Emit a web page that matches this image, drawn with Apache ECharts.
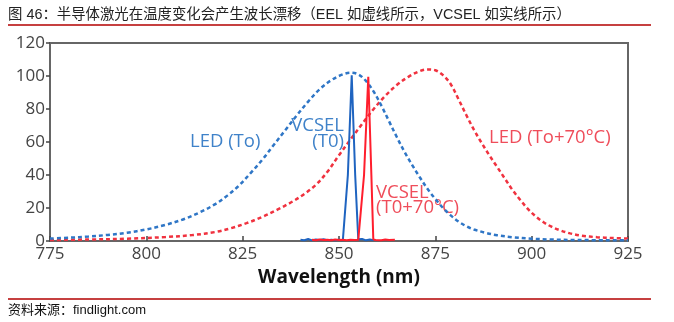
<!DOCTYPE html>
<html>
<head>
<meta charset="utf-8">
<script src="https://cdn.jsdelivr.net/npm/echarts@6/dist/echarts.min.js"></script>
<style>
html,body{margin:0;padding:0;background:#fff;}
#c{width:674px;height:322px;}
</style>
</head>
<body>
<div id="c"></div>
<script>
// ---- data ----
var titleText = '图 46：半导体激光在温度变化会产生波长漂移（EEL 如虚线所示，VCSEL 如实线所示）';
var sourceText = '资料来源：findlight.com';
var xTicks = [775, 800, 825, 850, 875, 900, 925];
var yTicks = [0, 20, 40, 60, 80, 100, 120];

var ledToX = [775,780,785,790,795,800,805,810,814,818,821,824,827,830,833,836,839,842,845,848,851,853,855,857,859,861,863,865,867,869,871,873,875,877,879,881,883,885,888,891,895,900,905,912,925];
var ledToY = [1.5,2,2.7,3.7,5,7,9.8,13.5,17.5,22.5,27.5,33.5,41,49,58,67,76,84.5,92,97.5,101,102,101,97,90.5,82,72.5,63,54,46,38.5,31.5,25.5,20,15.5,11.8,9,7,5,3.5,2.3,1.4,0.9,0.6,0.4];

var led70X = [775,785,795,805,812,818,822,826,830,834,838,841,844,847,850,853,856,859,862,865,868,871,873,875,877,879,881,883,885,887,889,891,893,895,897,899,901,903,905,907,910,913,917,921,925];
var led70Y = [0.6,0.9,1.4,2.4,3.6,5.5,7.8,10.8,14.5,19,24,28.5,34,42,52,61.5,71,80,88,94.5,99.5,103,104,103.5,100.5,95,86,76.5,67.5,59.5,52,45,38,31,25,19.5,15,11.5,8.8,6.8,4.6,3.2,2.3,1.8,1.5];

var vcselToX = [840,841,842,843,844,845,846,847,848,849,850,851,851.4,852.3,853.3,854.2,855,855.5,856,857,858,859];
var vcselToY = [0.8,0.5,1.2,0.4,0.9,0.6,1.0,0.5,0.8,0.4,0.7,0.5,1,40,100.5,40,1,0.5,1.2,0.4,0.9,0.5];

var vcsel70X = [843,844,845,846,847,848,849,850,851,852,853,854,855,855.5,856.5,857.6,858.4,858.9,859.5,860,861,862,863,864.5];
var vcsel70Y = [0.8,0.5,0.9,0.6,0.8,0.5,0.9,0.6,0.7,0.5,0.8,0.6,0.7,1,40,99.5,40,1,0.6,0.8,0.5,0.9,0.6,0.7];

function pairs(xs, ys){ return xs.map(function(x,i){ return [x, ys[i]]; }); }

var BLUE = '#2f76c6';
var RED = '#f0323f';
var BLUE_T = '#3f82c9';
var RED_T = '#ef4d5a';

var chart = echarts.init(document.getElementById('c'), null, {renderer:'canvas'});
var axisFont = '"Open Sans", Lato, sans-serif';
var lblFont = '18.5px "Open Sans", sans-serif';
chart.setOption({
  animation: false,
  backgroundColor: '#fff',
  grid: {left: 50, right: 46, top: 43, bottom: 81, show: true, borderColor: '#666', borderWidth: 2, backgroundColor: 'transparent'},
  xAxis: {
    type: 'value', min: xTicks[0], max: xTicks[xTicks.length-1], interval: 25,
    axisLine: {show: true, lineStyle: {color: '#666', width: 2}},
    axisTick: {show: true, inside: true, length: 5, lineStyle: {color: '#444', width: 1.5}},
    splitLine: {show: false},
    axisLabel: {color: '#444', fontSize: 17, fontFamily: axisFont, margin: 5},
    name: 'Wavelength (nm)', nameLocation: 'middle', nameGap: 24,
    nameTextStyle: {color: '#111', fontSize: 19, fontWeight: 'bold', fontFamily: axisFont}
  },
  yAxis: {
    type: 'value', min: yTicks[0], max: yTicks[yTicks.length-1], interval: 20,
    axisLine: {show: true, lineStyle: {color: '#666', width: 2}},
    axisTick: {show: true, inside: false, length: 4, lineStyle: {color: '#444', width: 1.5}},
    splitLine: {show: false},
    axisLabel: {color: '#444', fontSize: 17, fontFamily: axisFont, margin: 5}
  },
  series: [
    {type: 'line', data: pairs(led70X, led70Y), smooth: 0.35, symbol: 'none', lineStyle: {color: RED, width: 2.5, type: [4,3]}, z: 2},
    {type: 'line', data: pairs(ledToX, ledToY), smooth: 0.35, symbol: 'none', lineStyle: {color: BLUE, width: 2.5, type: [4,3]}, z: 3},
    {type: 'line', data: pairs(vcselToX, vcselToY), symbol: 'none', lineStyle: {color: '#1f64c0', width: 2}, z: 4},
    {type: 'line', data: pairs(vcsel70X, vcsel70Y), symbol: 'none', lineStyle: {color: '#ff1e2d', width: 2}, z: 5}
  ],
  graphic: [
    {type: 'text', left: 8, top: 8, style: {text: titleText, fill: '#222', font: '14.4px "Liberation Sans", "Noto Sans CJK SC", sans-serif'}},
    {type: 'line', shape: {x1: 8, y1: 25, x2: 651, y2: 25}, style: {stroke: '#b30000', lineWidth: 1.5}},
    {type: 'line', shape: {x1: 8, y1: 299, x2: 651, y2: 299}, style: {stroke: '#b30000', lineWidth: 1.5}},
    {type: 'text', left: 8, top: 304, style: {text: sourceText, fill: '#111', font: '13px "Liberation Sans", "Noto Sans CJK SC", sans-serif'}},
    {type: 'text', x: 190, y: 142, style: {text: 'LED (To)', fill: BLUE_T, font: lblFont, textAlign: 'left', textVerticalAlign: 'middle'}},
    {type: 'text', x: 344, y: 134, style: {text: 'VCSEL\n(T0)', fill: BLUE_T, font: lblFont, textAlign: 'right', textVerticalAlign: 'middle', lineHeight: 16}},
    {type: 'text', x: 376, y: 200, style: {text: 'VCSEL\n(T0+70°C)', fill: RED_T, font: lblFont, textAlign: 'left', textVerticalAlign: 'middle', lineHeight: 15.5}},
    {type: 'text', x: 489, y: 138, style: {text: 'LED (To+70°C)', fill: RED_T, font: lblFont, textAlign: 'left', textVerticalAlign: 'middle'}}
  ]
});
</script>
</body>
</html>
